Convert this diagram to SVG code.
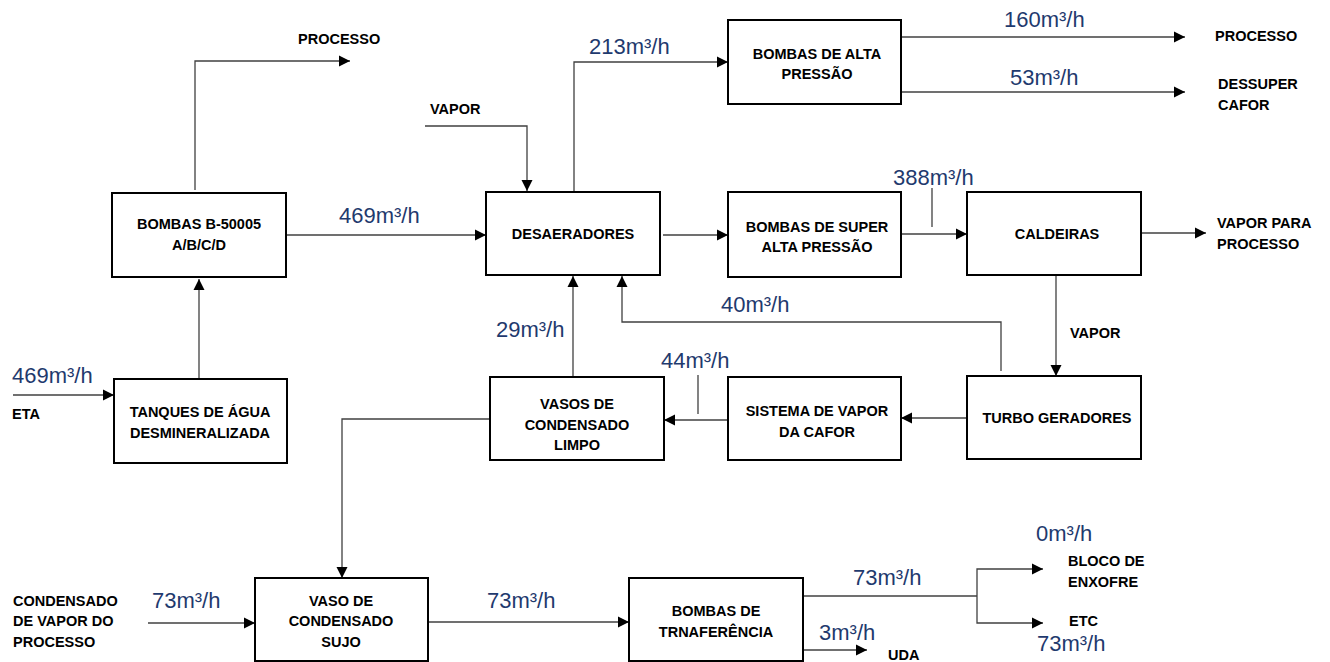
<svg xmlns="http://www.w3.org/2000/svg" width="1330" height="662" viewBox="0 0 1330 662">
<style>
.box{fill:#fff;stroke:#000;stroke-width:2}
.bt{font-family:"Liberation Sans",Arial,sans-serif;font-weight:bold;font-size:14.5px;fill:#000;text-anchor:middle}
.lt{font-family:"Liberation Sans",Arial,sans-serif;font-weight:bold;font-size:14.5px;fill:#000}
.num{font-family:"Liberation Sans",Arial,sans-serif;font-size:22px;fill:#1F3A6E}
.c{fill:none;stroke:#404040;stroke-width:1.3}
.ca{fill:none;stroke:#404040;stroke-width:1.3;marker-end:url(#ah)}
</style>
<defs>
<marker id="ah" markerUnits="userSpaceOnUse" markerWidth="12" markerHeight="12" refX="11" refY="5.5" orient="auto" viewBox="0 0 12 11">
<path d="M0,0 L11,5.5 L0,11 z" fill="#000"/>
</marker>
</defs>
<rect width="1330" height="662" fill="#fff"/>
<g id="connectors">
<polyline class="ca" points="195,190 195,61 350,61"/>
<line class="ca" x1="199" y1="379" x2="199" y2="279"/>
<line class="ca" x1="13" y1="395" x2="114" y2="395"/>
<line class="ca" x1="286" y1="235" x2="486" y2="235"/>
<polyline class="ca" points="425,126 527,126 527,191"/>
<polyline class="ca" points="574,192 574,62 728,62"/>
<line class="ca" x1="663" y1="235" x2="728" y2="235"/>
<line class="ca" x1="901" y1="37" x2="1185" y2="37"/>
<line class="ca" x1="901" y1="92" x2="1185" y2="92"/>
<line class="ca" x1="901" y1="234" x2="967" y2="234"/>
<line class="c" x1="932" y1="188" x2="932" y2="227"/>
<line class="ca" x1="1141" y1="233" x2="1206" y2="233"/>
<line class="ca" x1="1056" y1="275" x2="1056" y2="376"/>
<polyline class="ca" points="1001,371 1001,322 622,322 622,276"/>
<line class="ca" x1="573" y1="377" x2="573" y2="276"/>
<line class="ca" x1="967" y1="418" x2="901" y2="418"/>
<line class="ca" x1="731" y1="420" x2="664" y2="420"/>
<line class="c" x1="698" y1="375" x2="698" y2="414"/>
<polyline class="ca" points="490,419 342,419 342,578"/>
<line class="ca" x1="148" y1="623" x2="255" y2="623"/>
<line class="ca" x1="428" y1="622" x2="629" y2="622"/>
<line class="c" x1="803" y1="596" x2="977" y2="596"/>
<polyline class="ca" points="977,596 977,569 1043,569"/>
<polyline class="ca" points="977,596 977,623 1043,623"/>
<line class="ca" x1="803" y1="650" x2="867" y2="650"/>
</g>
<g id="bombasB">
<rect class="box" x="112" y="193" width="174" height="84"/>
<text class="bt" x="199" y="229">BOMBAS B-50005</text>
<text class="bt" x="199" y="250">A/B/C/D</text>
</g>
<g id="tanques">
<rect class="box" x="114" y="379" width="173" height="84"/>
<text class="bt" x="200" y="417">TANQUES DE ÁGUA</text>
<text class="bt" x="200" y="438">DESMINERALIZADA</text>
</g>
<g id="desaeradores">
<rect class="box" x="486" y="192" width="174" height="83"/>
<text class="bt" x="573" y="239">DESAERADORES</text>
</g>
<g id="bombasAlta">
<rect class="box" x="728" y="20" width="173" height="84"/>
<text class="bt" x="817" y="59">BOMBAS DE ALTA</text>
<text class="bt" x="817" y="79">PRESSÃO</text>
</g>
<g id="bombasSuper">
<rect class="box" x="728" y="192" width="173" height="85"/>
<text class="bt" x="817" y="232">BOMBAS DE SUPER</text>
<text class="bt" x="817" y="252">ALTA PRESSÃO</text>
</g>
<g id="caldeiras">
<rect class="box" x="967" y="192" width="174" height="83"/>
<text class="bt" x="1057" y="239">CALDEIRAS</text>
</g>
<g id="turbo">
<rect class="box" x="967" y="376" width="174" height="83"/>
<text class="bt" x="1057" y="423">TURBO GERADORES</text>
</g>
<g id="sistema">
<rect class="box" x="728" y="377" width="173" height="83"/>
<text class="bt" x="817" y="416">SISTEMA DE VAPOR</text>
<text class="bt" x="817" y="437">DA CAFOR</text>
</g>
<g id="vasosLimpo">
<rect class="box" x="490" y="377" width="174" height="83"/>
<text class="bt" x="577" y="409">VASOS DE</text>
<text class="bt" x="577" y="430">CONDENSADO</text>
<text class="bt" x="577" y="450">LIMPO</text>
</g>
<g id="vasoSujo">
<rect class="box" x="255" y="578" width="173" height="83"/>
<text class="bt" x="341" y="606">VASO DE</text>
<text class="bt" x="341" y="626">CONDENSADO</text>
<text class="bt" x="341" y="647">SUJO</text>
</g>
<g id="bombasTransf">
<rect class="box" x="629" y="578" width="174" height="83"/>
<text class="bt" x="716" y="616">BOMBAS DE</text>
<text class="bt" x="716" y="637">TRNAFERÊNCIA</text>
</g>
<g id="labels">
<text class="lt" x="298" y="44">PROCESSO</text>
<text class="lt" x="430" y="114">VAPOR</text>
<text class="lt" x="1215" y="41">PROCESSO</text>
<text class="lt" x="1218" y="89">DESSUPER</text>
<text class="lt" x="1218" y="110">CAFOR</text>
<text class="lt" x="1217" y="228">VAPOR PARA</text>
<text class="lt" x="1217" y="249">PROCESSO</text>
<text class="lt" x="1070" y="338">VAPOR</text>
<text class="lt" x="12" y="419">ETA</text>
<text class="lt" x="13" y="606">CONDENSADO</text>
<text class="lt" x="13" y="626">DE VAPOR DO</text>
<text class="lt" x="13" y="647">PROCESSO</text>
<text class="lt" x="888" y="660">UDA</text>
<text class="lt" x="1068" y="566">BLOCO DE</text>
<text class="lt" x="1068" y="587">ENXOFRE</text>
<text class="lt" x="1069" y="626">ETC</text>
<text class="num" x="12" y="383">469m³/h</text>
<text class="num" x="339" y="223">469m³/h</text>
<text class="num" x="589" y="54">213m³/h</text>
<text class="num" x="1004" y="27">160m³/h</text>
<text class="num" x="1010" y="85">53m³/h</text>
<text class="num" x="893" y="185">388m³/h</text>
<text class="num" x="721" y="312">40m³/h</text>
<text class="num" x="496" y="337">29m³/h</text>
<text class="num" x="661" y="368">44m³/h</text>
<text class="num" x="152" y="608">73m³/h</text>
<text class="num" x="487" y="608">73m³/h</text>
<text class="num" x="853" y="585">73m³/h</text>
<text class="num" x="819" y="640">3m³/h</text>
<text class="num" x="1036" y="541">0m³/h</text>
<text class="num" x="1037" y="651">73m³/h</text>
</g>
</svg>
